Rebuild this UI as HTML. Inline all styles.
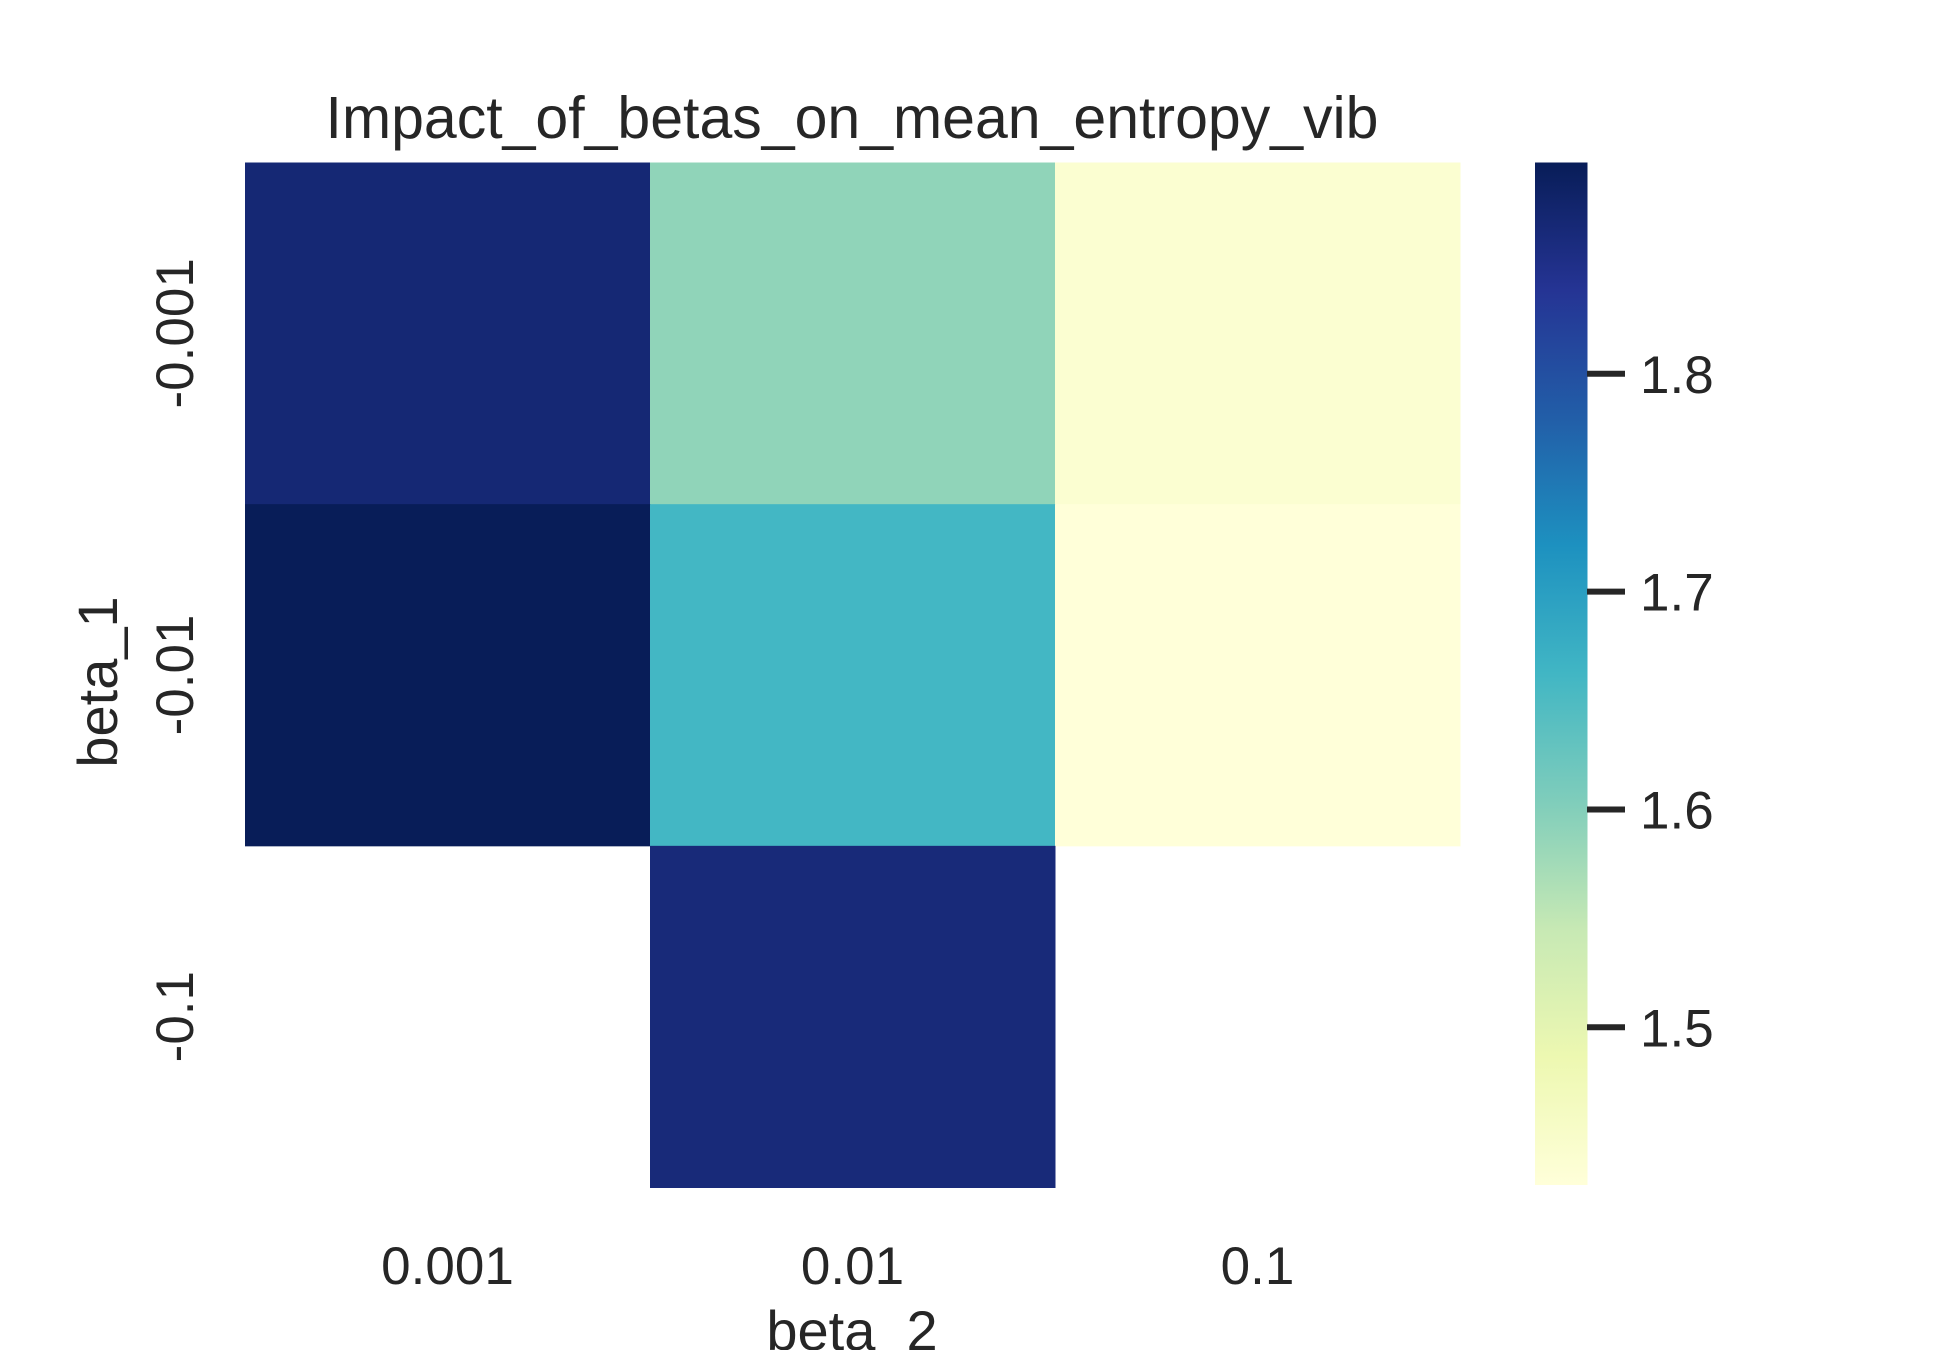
<!DOCTYPE html>
<html><head><meta charset="utf-8"><style>
body{margin:0;background:#fff;}
svg text{font-family:"Liberation Sans",sans-serif;fill:#262626;}
</style></head><body>
<svg id="chart" width="1950" height="1350" xmlns="http://www.w3.org/2000/svg">
<defs><linearGradient id="cg" x1="0" y1="1" x2="0" y2="0">
<stop offset="0" stop-color="#ffffd9"/><stop offset="0.125" stop-color="#edf8b1"/><stop offset="0.25" stop-color="#c7e9b4"/><stop offset="0.375" stop-color="#7fcdbb"/><stop offset="0.5" stop-color="#41b6c4"/><stop offset="0.625" stop-color="#1d91c0"/><stop offset="0.75" stop-color="#225ea8"/><stop offset="0.875" stop-color="#253494"/><stop offset="1" stop-color="#081d58"/>
</linearGradient></defs>
<text x="852" y="138" font-size="59" text-anchor="middle">Impact_of_betas_on_mean_entropy_vib</text>
<g id="cells"></g>
<g id="xt"></g><g id="yt"></g>
<text x="852" y="1350" font-size="56" text-anchor="middle">beta_2</text>
<text transform="translate(117,682) rotate(-90)" font-size="56" text-anchor="middle">beta_1</text>
<rect x="1535" y="162.5" width="52.5" height="1022.5" fill="url(#cg)"/>
<g id="cb"></g>
</svg>
<script>
const xCats=["0.001","0.01","0.1"];
const yCats=["-0.001","-0.01","-0.1"];
const row0=[1.87,1.59,1.44];
const row1=[1.897,1.66,1.428];
const row2=[null,1.865,null];
const cbTicks=[1.5,1.6,1.7,1.8];
const vmin=1.4276, vmax=1.897;
const rows=[row0,row1,row2];
const X0=245,X1=1460,Y0=162.5,Y1=1187.5;
const cw=(X1-X0)/xCats.length, ch=(Y1-Y0)/yCats.length;
const xs=i=>X0+i*cw, ys=j=>Y0+j*ch;
const stops=["#ffffd9","#edf8b1","#c7e9b4","#7fcdbb","#41b6c4","#1d91c0","#225ea8","#253494","#081d58"];
function hex(h){return [1,3,5].map(k=>parseInt(h.substr(k,2),16));}
function color(v){let t=Math.max(0,Math.min(1,(v-vmin)/(vmax-vmin)))*(stops.length-1);let i=Math.min(Math.floor(t),stops.length-2),f=t-i;const a=hex(stops[i]),b=hex(stops[i+1]);return "rgb("+a.map((c,k)=>Math.round(c+(b[k]-c)*f)).join(",")+")";}
const NS="http://www.w3.org/2000/svg";
const cells=document.getElementById("cells");
rows.forEach((r,j)=>r.forEach((v,i)=>{if(v===null)return;const e=document.createElementNS(NS,"rect");
e.setAttribute("x",xs(i));e.setAttribute("y",ys(j));e.setAttribute("width",cw+0.5);e.setAttribute("height",ch+0.5);e.setAttribute("fill",color(v));


cells.appendChild(e);}));
const xt=document.getElementById("xt");
xCats.forEach((c,i)=>{const t=document.createElementNS(NS,"text");t.setAttribute("x",xs(i)+cw/2);t.setAttribute("y",1284);t.setAttribute("font-size","53");t.setAttribute("text-anchor","middle");t.textContent=c;


xt.appendChild(t);});
const yt=document.getElementById("yt");
yCats.forEach((c,j)=>{const t=document.createElementNS(NS,"text");t.setAttribute("transform","translate(193,"+(ys(j)+ch/2)+") rotate(-90)");t.setAttribute("font-size","53");t.setAttribute("text-anchor","middle");t.textContent=c;


yt.appendChild(t);});
const cb=document.getElementById("cb");
const cy=v=>1185-(v-vmin)/(vmax-vmin)*1022.5;
cbTicks.forEach(v=>{const l=document.createElementNS(NS,"line");l.setAttribute("x1",1587);l.setAttribute("x2",1625);l.setAttribute("y1",cy(v));l.setAttribute("y2",cy(v));l.setAttribute("stroke","#262626");l.setAttribute("stroke-width","6");


cb.appendChild(l);
const t=document.createElementNS(NS,"text");t.setAttribute("x",1640);t.setAttribute("y",cy(v)+19);t.setAttribute("font-size","53");t.textContent=v.toFixed(1);


cb.appendChild(t);});
</script>
</body></html>
